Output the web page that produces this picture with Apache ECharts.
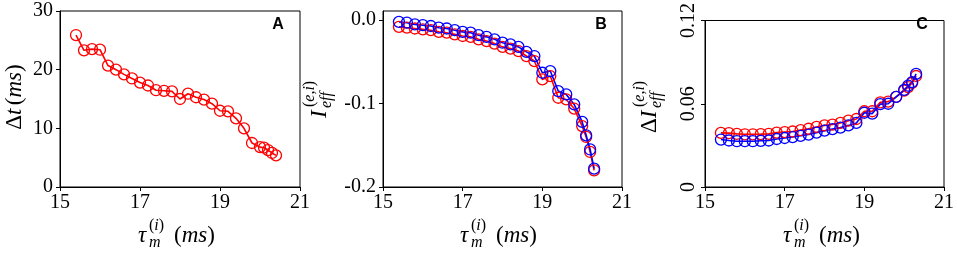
<!DOCTYPE html>
<html>
<head>
<meta charset="utf-8">
<script src="https://cdn.jsdelivr.net/npm/echarts@6/dist/echarts.min.js"></script>
<style>
  html, body { margin: 0; padding: 0; background: #fff; }
  #chart { width: 957px; height: 253px; }
</style>
</head>
<body>
<div id="chart"></div>
<script>
// ---- data
var xA = [15.4, 15.6, 15.8, 16.0, 16.2, 16.4, 16.6, 16.8, 17.0, 17.2, 17.4, 17.6, 17.8, 18.0,
    18.2, 18.4, 18.6, 18.8, 19.0, 19.2, 19.4, 19.6, 19.8, 20.0, 20.1, 20.2, 20.3, 20.4];
var dtA = [25.9, 23.3, 23.5, 23.4, 20.7, 20.0, 19.2, 18.5, 17.8, 17.3, 16.5, 16.4, 16.3, 15.0,
    15.9, 15.3, 14.9, 14.2, 13.0, 12.9, 11.7, 10.0, 7.5, 6.8, 6.7, 6.3, 5.8, 5.4];

var xBC = [15.4, 15.6, 15.8, 16.0, 16.2, 16.4, 16.6, 16.8, 17.0, 17.2, 17.4, 17.6, 17.8, 18.0,
    18.2, 18.4, 18.6, 18.8, 19.0, 19.2, 19.4, 19.6, 19.8, 20.0, 20.1, 20.2, 20.3];

var ieffRed = [-0.008, -0.009, -0.010, -0.011, -0.012, -0.014, -0.015, -0.017, -0.019, -0.020,
    -0.023, -0.025, -0.028, -0.032, -0.034, -0.037, -0.043, -0.049, -0.071, -0.067, -0.093,
    -0.095, -0.106, -0.127, -0.140, -0.158, -0.180];
var ieffBlue = [-0.002, -0.003, -0.005, -0.006, -0.007, -0.009, -0.010, -0.012, -0.014, -0.015,
    -0.018, -0.020, -0.023, -0.027, -0.029, -0.032, -0.038, -0.043, -0.063, -0.061, -0.085,
    -0.089, -0.101, -0.122, -0.138, -0.155, -0.178];

var dIeffRed = [0.039, 0.0388, 0.0383, 0.038, 0.038, 0.0381, 0.0383, 0.0392, 0.0396, 0.040,
    0.041, 0.042, 0.0433, 0.0444, 0.045, 0.0462, 0.0478, 0.049, 0.0546, 0.0546, 0.061,
    0.0615, 0.065, 0.0695, 0.072, 0.075, 0.080];
var dIeffBlue = [0.0342, 0.0335, 0.033, 0.033, 0.033, 0.0333, 0.0335, 0.0346, 0.0353, 0.036,
    0.0369, 0.0378, 0.0392, 0.0406, 0.0417, 0.0428, 0.0444, 0.0462, 0.0535, 0.0529, 0.0597,
    0.060, 0.065, 0.070, 0.073, 0.0756, 0.0815];

var xTicks = [15, 17, 19, 21];
var yTicksA = [0, 10, 20, 30];
var yTicksB = [-0.2, -0.1, 0.0];
var yTicksC = [0, 0.06, 0.12];
var panelTags = ['A', 'B', 'C'];

var SERIF = '"Liberation Serif", "DejaVu Serif", serif';

function pairs(xs, ys) {
    return xs.map(function (x, i) { return [x, ys[i]]; });
}

function xAxisCfg(gi) {
    return {
        type: 'value', gridIndex: gi, min: 15, max: 21, interval: 2,
        axisLine: { show: true, onZero: false, lineStyle: { color: '#000', width: 1 } },
        axisTick: { show: true, length: 4, customValues: xTicks, lineStyle: { color: '#000' } },
        axisLabel: { color: '#000', fontFamily: SERIF, fontSize: 20, margin: 6, customValues: xTicks },
        splitLine: { show: false }
    };
}

function yAxisCfg(gi, min, max, interval, ticks, fmt, rotate) {
    return {
        type: 'value', gridIndex: gi, min: min, max: max, interval: interval,
        axisLine: { show: true, onZero: false, lineStyle: { color: '#000', width: 1 } },
        axisTick: { show: true, length: 4, customValues: ticks, lineStyle: { color: '#000' } },
        axisLabel: {
            color: '#000', fontFamily: SERIF, fontSize: 20, margin: rotate ? 6 : 7,
            rotate: rotate || 0, customValues: ticks, formatter: fmt
        },
        splitLine: { show: false }
    };
}

function lineSeries(gi, data, color) {
    return {
        type: 'line', xAxisIndex: gi, yAxisIndex: gi, data: data,
        symbol: 'circle', symbolSize: 11, showAllSymbol: true,
        lineStyle: { color: color, width: 1.6 },
        itemStyle: { color: 'transparent', borderColor: color, borderWidth: 1.3 },
        emphasis: { disabled: true }, animation: false
    };
}

// rich text styles for the math labels
var rich = {
    r: { fontFamily: SERIF, fontSize: 23, fill: '#000' },
    i: { fontFamily: SERIF, fontSize: 23, fontStyle: 'italic', fill: '#000' },
    sr: { fontFamily: SERIF, fontSize: 16, fill: '#000' },
    si: { fontFamily: SERIF, fontSize: 16, fontStyle: 'italic', fill: '#000' }
};

function txt(t, dx, dy, align) {
    return {
        type: 'text', x: dx, y: dy,
        style: { text: t, rich: rich, align: align || 'left', verticalAlign: 'middle', fill: '#000' }
    };
}

// tau_m^(i) (ms), left edge at x
function xTitle(x) {
    return {
        type: 'group', x: x, y: 236, children: [
            txt('{i|τ}', 0, 0),
            txt('{si|m}', 11, 7),
            txt('{sr|(}{si|i}{sr|)}', 11, -10),
            txt('{r|(}{i|ms}{r|)}', 36, 0)
        ]
    };
}

var graphics = [
    xTitle(138), xTitle(460), xTitle(783),
    { type: 'group', x: 15, y: 97, rotation: Math.PI / 2, children: [
        txt('{r|Δ}{i|t} {r|(}{i|ms}{r|)}', 0, 0, 'center')
    ] },
    { type: 'group', x: 320, y: 118, rotation: Math.PI / 2, children: [
        txt('{i|I}', 0, 0),
        txt('{si|eff}', 10, 7),
        txt('{sr|(}{si|e,i}{sr|)}', 11, -10)
    ] },
    { type: 'group', x: 650, y: 133, rotation: Math.PI / 2, children: [
        txt('{r|Δ}{i|I}', 0, 0),
        txt('{si|eff}', 25, 7),
        txt('{sr|(}{si|e,i}{sr|)}', 26, -10)
    ] }
];

var tagX = [278, 601, 922];
panelTags.forEach(function (t, i) {
    graphics.push({
        type: 'text', x: tagX[i], y: 25,
        style: { text: t, fontFamily: '"Liberation Sans", Arial, sans-serif', fontWeight: 'bold',
            fontSize: 16, fill: '#000', align: 'center', verticalAlign: 'middle' }
    });
});

var chart = echarts.init(document.getElementById('chart'), null, { renderer: 'canvas' });
chart.setOption({
    backgroundColor: '#fff',
    animation: false,
    grid: [
        { left: 60, top: 11, width: 240, height: 176, show: true, borderColor: '#000', borderWidth: 1 },
        { left: 383, top: 11, width: 239, height: 176, show: true, borderColor: '#000', borderWidth: 1 },
        { left: 705, top: 11, width: 239, height: 176, show: true, borderColor: '#000', borderWidth: 1 }
    ],
    xAxis: [xAxisCfg(0), xAxisCfg(1), xAxisCfg(2)],
    yAxis: [
        yAxisCfg(0, 0, 30, 10, yTicksA, function (v) { return String(v); }),
        yAxisCfg(1, -0.2, 0.011, 0.1, yTicksB, function (v) { return v.toFixed(1); }),
        yAxisCfg(2, 0, 0.12, 0.06, yTicksC, function (v) { return v === 0 ? '0' : v.toFixed(2); }, 90)
    ],
    series: [
        lineSeries(0, pairs(xA, dtA), '#ff0000'),
        lineSeries(1, pairs(xBC, ieffRed), '#ff0000'),
        lineSeries(1, pairs(xBC, ieffBlue), '#0000ff'),
        lineSeries(2, pairs(xBC, dIeffRed), '#ff0000'),
        lineSeries(2, pairs(xBC, dIeffBlue), '#0000ff')
    ],
    graphic: graphics
});
</script>
</body>
</html>
